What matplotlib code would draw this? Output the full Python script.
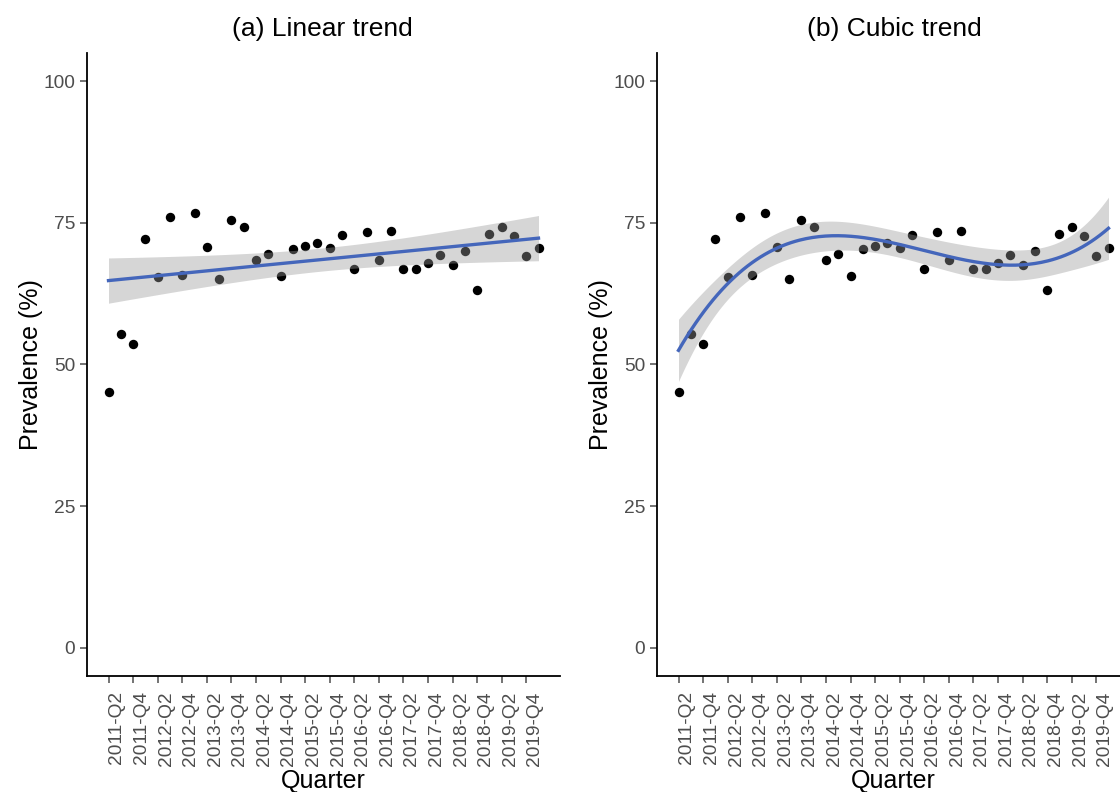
import numpy as np
import matplotlib
matplotlib.use("Agg")
import matplotlib.pyplot as plt

plt.rcParams['font.family'] = ['Liberation Sans', 'DejaVu Sans']

# quarterly prevalence, 2011-Q2 .. 2020-Q1
quarters = [f"{y}-Q{q}" for y in range(2011, 2021) for q in range(1, 5)][1:37]
prevalence = [45.1, 55.4, 53.6, 72.1, 65.4, 76.0, 65.8, 76.7, 70.7, 65.1,
              75.5, 74.3, 68.4, 69.5, 65.6, 70.4, 70.9, 71.4, 70.5, 72.8,
              66.8, 73.4, 68.4, 73.5, 66.8, 66.8, 67.9, 69.3, 67.5, 70.0,
              63.1, 73.0, 74.3, 72.7, 69.1, 70.5]
titles = ["(a) Linear trend", "(b) Cubic trend"]
degrees = [1, 3]
y_ticks = [0, 25, 50, 75, 100]

# t quantiles (0.975) for residual df 34 and 32
T_CRIT = {1: 2.032, 3: 2.037}

x = np.arange(1, len(prevalence) + 1, dtype=float)
y = np.array(prevalence)


def fit_with_ci(deg):
    X = np.vander(x, deg + 1)
    beta, *_ = np.linalg.lstsq(X, y, rcond=None)
    resid = y - X @ beta
    dof = len(y) - (deg + 1)
    sigma2 = resid @ resid / dof
    xs = np.linspace(x.min(), x.max(), 200)
    Xs = np.vander(xs, deg + 1)
    cov = sigma2 * np.linalg.inv(X.T @ X)
    se = np.sqrt(np.einsum('ij,jk,ik->i', Xs, cov, Xs))
    fit = Xs @ beta
    t = T_CRIT[deg]
    return xs, fit, fit - t * se, fit + t * se


fig = plt.figure(figsize=(11.2, 7.92), dpi=100)
W, H = 1120, 792
panels = [(87, 560, 322), (657, 1130, 894)]

for (x0, x1, tx), title, deg in zip(panels, titles, degrees):
    ax = fig.add_axes([x0 / W, 1 - 676 / H, (x1 - x0) / W, (676 - 53) / H])
    ax.scatter(x, y, s=46, color='black', zorder=2, linewidths=0)
    xs, fit, lo, hi = fit_with_ci(deg)
    ax.fill_between(xs, lo, hi, color='#999999', alpha=0.4, linewidth=0, zorder=3)
    ax.plot(xs, fit, color='#4466BB', linewidth=2.4, zorder=4)

    span = x.max() - x.min()
    ax.set_xlim(x.min() - 0.05 * span, x.max() + 0.05 * span)
    ax.set_ylim(-5, 105)
    ax.set_yticks(y_ticks)
    ax.set_xticks(x[::2])
    ax.set_xticklabels(quarters[::2], rotation=90, ha='left')
    ax.tick_params(axis='both', labelsize=13.8, colors='#4D4D4D',
                   length=5, width=1.1, labelcolor='#4D4D4D')
    ax.tick_params(axis='x', pad=6)
    for side in ['top', 'right']:
        ax.spines[side].set_visible(False)
    for side in ['left', 'bottom']:
        ax.spines[side].set_linewidth(1.3)
        ax.spines[side].set_color('black')
    ax.set_xlabel("Quarter", fontsize=18, labelpad=2)
    ax.set_ylabel("Prevalence (%)", fontsize=18, labelpad=0)
    ax.set_title(title, fontsize=19, pad=12, x=(tx - x0) / (x1 - x0))

fig.savefig("out.png", dpi=100)
